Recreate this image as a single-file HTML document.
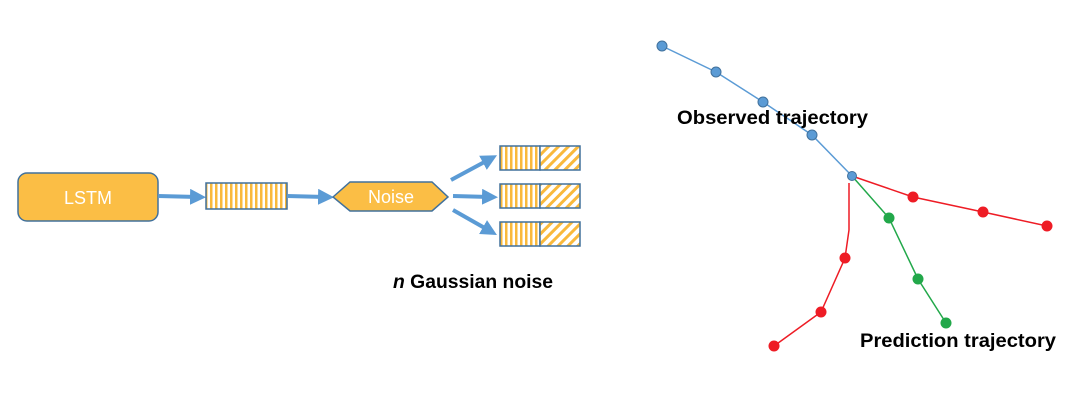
<!DOCTYPE html>
<html><head><meta charset="utf-8"><style>
html,body{margin:0;padding:0;background:#fff;}
svg{display:block;}
text{font-family:"Liberation Sans",sans-serif;}
</style></head><body>
<svg width="1080" height="403" viewBox="0 0 1080 403" xmlns="http://www.w3.org/2000/svg">
<defs>
<pattern id="v" width="5" height="10" patternUnits="userSpaceOnUse">
<rect width="5" height="10" fill="#fff"/><rect width="2.5" height="10" fill="#F9B93C"/>
</pattern>
<pattern id="d" width="7" height="7" patternUnits="userSpaceOnUse" patternTransform="rotate(45)">
<rect width="7" height="7" fill="#fff"/><rect width="3" height="7" fill="#F9B93C"/>
</pattern>
<marker id="ah" markerWidth="4" markerHeight="4" refX="2" refY="2" orient="auto" markerUnits="strokeWidth">
<path d="M0,0 L4,2 L0,4 z" fill="#5B9BD5"/>
</marker>
</defs>
<rect x="18" y="173" width="140" height="48" rx="9" fill="#FBBE45" stroke="#41719C" stroke-width="1.5"/>
<text x="88" y="204" font-size="18" fill="#fff" text-anchor="middle">LSTM</text>
<line x1="158" y1="196" x2="198" y2="197" stroke="#5B9BD5" stroke-width="4" marker-end="url(#ah)"/>
<rect x="206" y="183" width="81" height="26" fill="url(#v)" stroke="#41719C" stroke-width="1.5"/>
<line x1="287" y1="196" x2="326" y2="197" stroke="#5B9BD5" stroke-width="4" marker-end="url(#ah)"/>
<polygon points="333,197 350,182 432,182 448,197 432,211 350,211" fill="#FBBE45" stroke="#41719C" stroke-width="1.5"/>
<text x="391" y="203" font-size="18" fill="#fff" text-anchor="middle">Noise</text>
<line x1="451" y1="180" x2="490" y2="159" stroke="#5B9BD5" stroke-width="4" marker-end="url(#ah)"/>
<line x1="453" y1="196" x2="490" y2="197" stroke="#5B9BD5" stroke-width="4" marker-end="url(#ah)"/>
<line x1="453" y1="210" x2="490" y2="231" stroke="#5B9BD5" stroke-width="4" marker-end="url(#ah)"/>
<g stroke="#41719C" stroke-width="1.5">
<rect x="500" y="146" width="40" height="24" fill="url(#v)"/><rect x="540" y="146" width="40" height="24" fill="url(#d)"/>
<rect x="500" y="184" width="40" height="24" fill="url(#v)"/><rect x="540" y="184" width="40" height="24" fill="url(#d)"/>
<rect x="500" y="222" width="40" height="24" fill="url(#v)"/><rect x="540" y="222" width="40" height="24" fill="url(#d)"/>
</g>
<text x="393" y="288" font-size="19" font-weight="bold" fill="#000" textLength="160" lengthAdjust="spacingAndGlyphs"><tspan font-style="italic">n</tspan> Gaussian noise</text>

<polyline points="662,46 716,72 763,102 812,135 852,176" fill="none" stroke="#5B9BD5" stroke-width="1.5"/>
<polyline points="852,176 913,197 983,212 1047,226" fill="none" stroke="#EE1C25" stroke-width="1.5"/>
<polyline points="852,176 889,218 918,279 946,323" fill="none" stroke="#22A84A" stroke-width="1.5"/>
<polyline points="849,183 849,230 845,258 821,312 774,346" fill="none" stroke="#EE1C25" stroke-width="1.5"/>
<g fill="#5B9BD5" stroke="#41719C" stroke-width="1">
<circle cx="662" cy="46" r="5"/><circle cx="716" cy="72" r="5"/><circle cx="763" cy="102" r="5"/><circle cx="812" cy="135" r="5"/><circle cx="852" cy="176" r="4.5"/>
</g>
<g fill="#EE1C25">
<circle cx="913" cy="197" r="5.5"/><circle cx="983" cy="212" r="5.5"/><circle cx="1047" cy="226" r="5.5"/>
<circle cx="845" cy="258" r="5.5"/><circle cx="821" cy="312" r="5.5"/><circle cx="774" cy="346" r="5.5"/>
</g>
<g fill="#22A84A">
<circle cx="889" cy="218" r="5.5"/><circle cx="918" cy="279" r="5.5"/><circle cx="946" cy="323" r="5.5"/>
</g>
<text x="677" y="124" font-size="19" font-weight="bold" fill="#000" textLength="191" lengthAdjust="spacingAndGlyphs">Observed trajectory</text>
<text x="860" y="347" font-size="19" font-weight="bold" fill="#000" textLength="196" lengthAdjust="spacingAndGlyphs">Prediction trajectory</text>
</svg>
</body></html>
